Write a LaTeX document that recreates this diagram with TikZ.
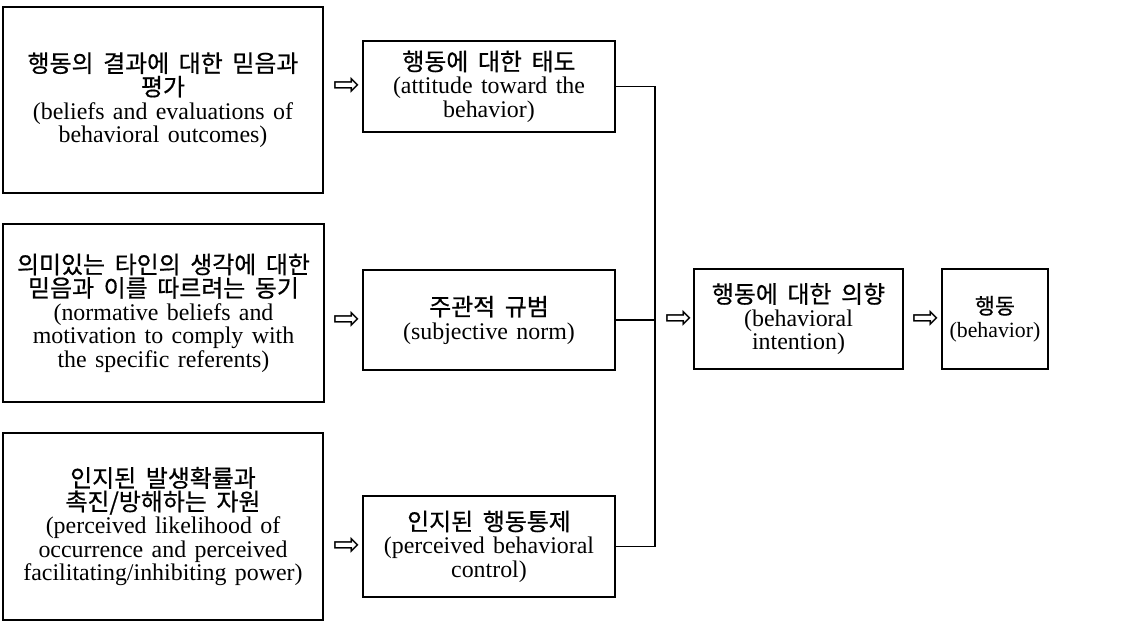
\documentclass[tikz,border=0pt]{standalone}
\usepackage{fontspec}
\setmainfont{Liberation Serif}[WordSpace=1.4]
\newfontfamily\krfont{Noto Sans CJK KR}[WordSpace=1.8, FakeBold=0.6]
\newfontfamily\arrowfont{DejaVu Sans}
\newcommand{\kor}[1]{{\krfont #1}}
\usepackage{tikz}

\tikzset{
	box/.style={draw, line width=1.1pt, align=center, inner sep=2pt, font=\fontsize{17}{16.7}\selectfont},
	flow/.style={inner sep=0pt, font=\arrowfont\fontsize{23}{23}\selectfont},
}

\begin{document}
\begin{tikzpicture}[x=0.025cm, y=-0.025cm]
	\useasboundingbox (0,0) rectangle (1123,624);
	\node[box, minimum width=8cm, minimum height=4.65cm] (belief) at (163,100) {\kor{행동의 결과에 대한 믿음과}\\\kor{평가}\\(beliefs and evaluations of\\behavioral outcomes)};
	\node[box, minimum width=8.025cm, minimum height=4.45cm] (normbelief) at (163.5,313) {\kor{의미있는 타인의 생각에 대한}\\\kor{믿음과 이를 따르려는 동기}\\(normative beliefs and\\motivation to comply with\\the specific referents)};
	\node[box, minimum width=8cm, minimum height=4.675cm] (likelihood) at (163,526.5) {\kor{인지된 발생확률과}\\\kor{촉진/방해하는 자원}\\(perceived likelihood of\\occurrence and perceived\\facilitating/inhibiting power)};
	\node[box, minimum width=6.3cm, minimum height=2.275cm] (attitude) at (489,86.5) {\kor{행동에 대한 태도}\\(attitude toward the\\behavior)};
	\node[box, minimum width=6.3cm, minimum height=2.5cm] (norm) at (489,320) {\kor{주관적 규범}\\(subjective norm)};
	\node[box, minimum width=6.3cm, minimum height=2.525cm] (control) at (489,546.5) {\kor{인지된 행동통제}\\(perceived behavioral\\control)};
	\node[box, minimum width=5.225cm, minimum height=2.5cm] (intention) at (798.5,319) {\kor{행동에 대한 의향}\\(behavioral\\intention)};
	\node[box, minimum width=2.65cm, minimum height=2.5cm, font=\fontsize{15.5}{16.7}\selectfont] (behavior) at (995,319) {\kor{행동}\\(behavior)};
	\node[flow] (flowa) at (347.5,86.5) {⇨};
	\node[flow] (flowb) at (347.5,320) {⇨};
	\node[flow] (flowc) at (347.5,546.5) {⇨};
	\node[flow] (flowd) at (679,319) {⇨};
	\node[flow] (flowe) at (926,319) {⇨};
	\coordinate (join) at (655,320);
	\draw[line width=1.1pt] (attitude.east) -| (join) |- (control.east);
	\draw[line width=1.1pt] (norm.east) -- (join);
\end{tikzpicture}
\end{document}
